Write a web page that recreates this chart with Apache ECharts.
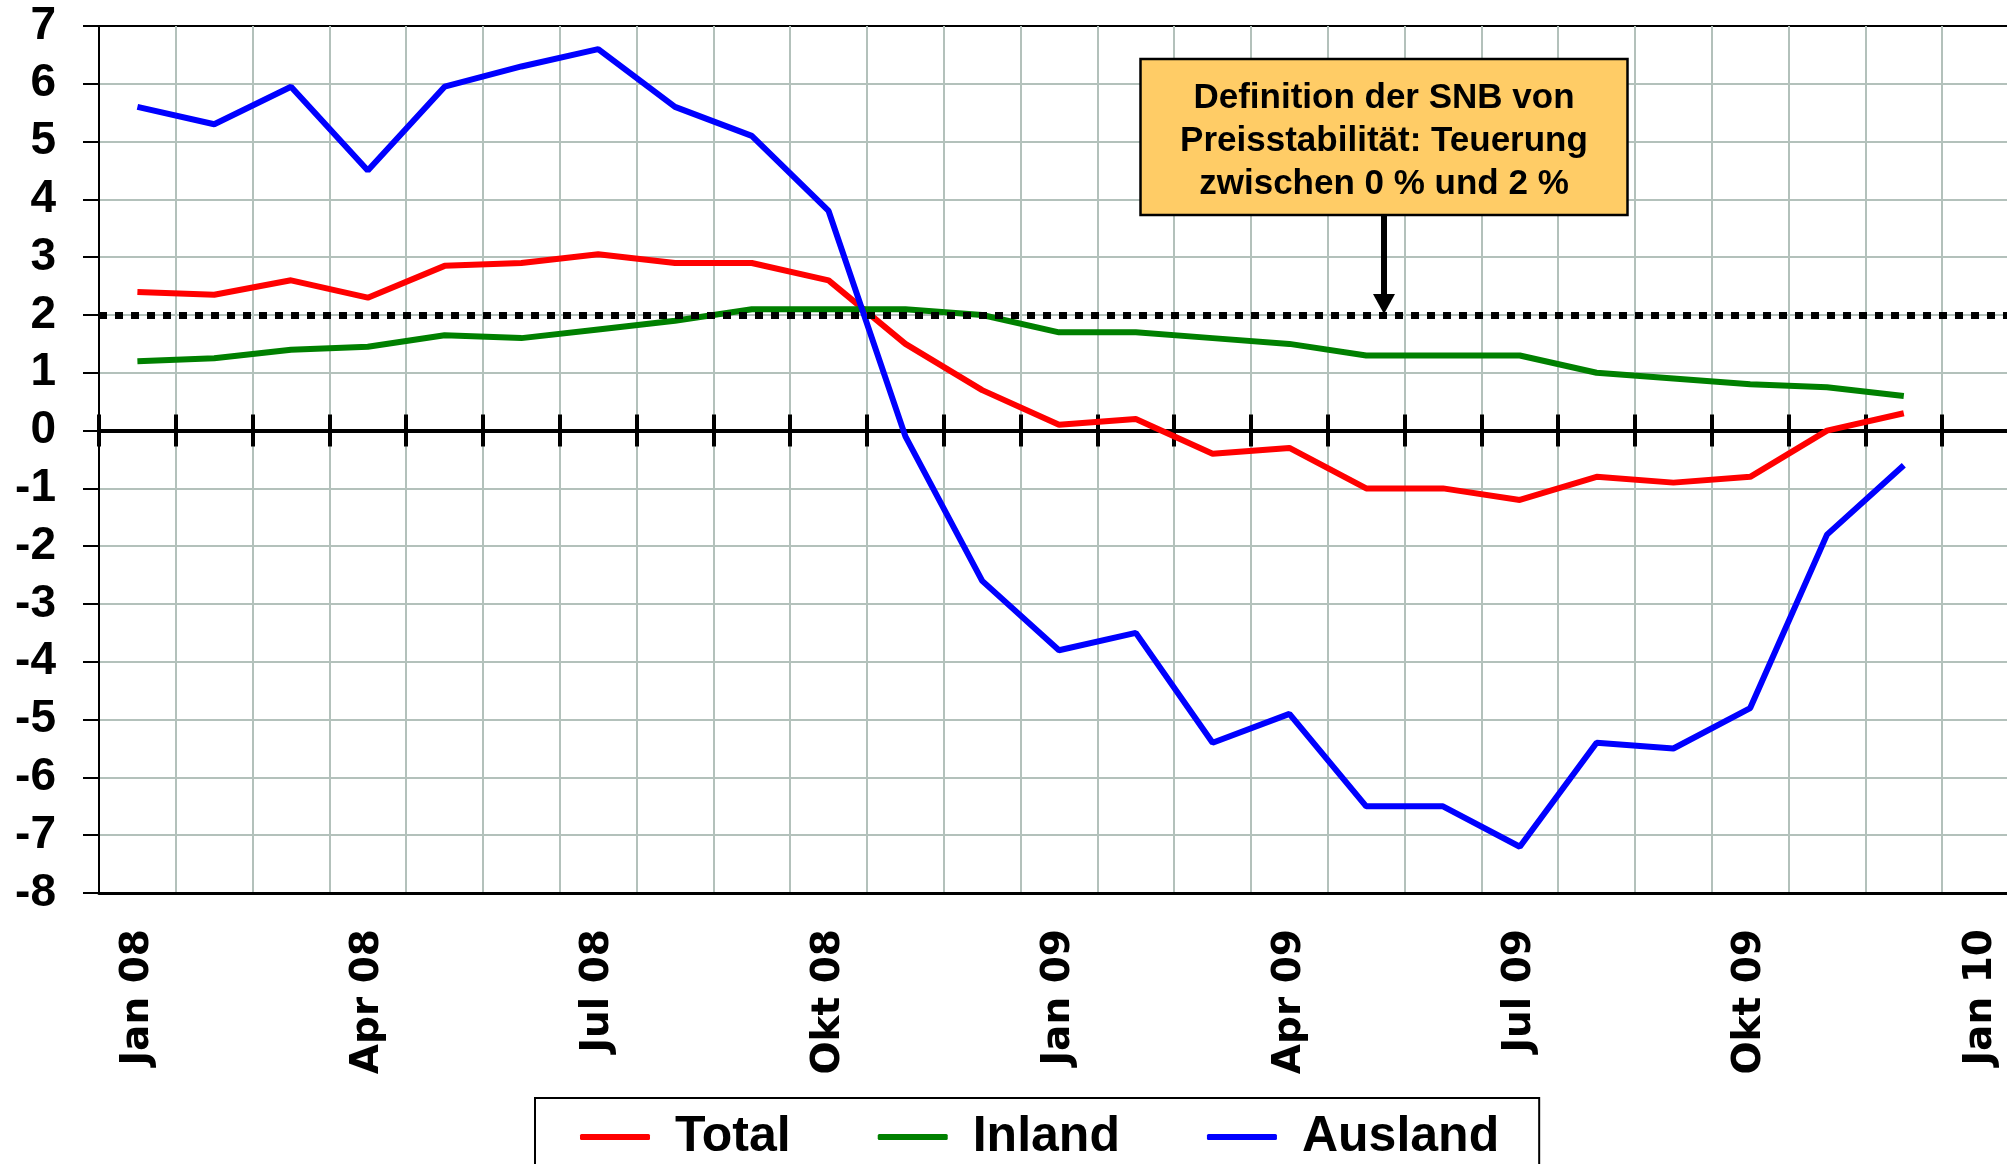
<!DOCTYPE html>
<html>
<head>
<meta charset="utf-8">
<script src="https://cdn.jsdelivr.net/npm/echarts@6/dist/echarts.min.js"></script>
<style>
  html, body { margin: 0; padding: 0; background: #fff; }
  #chart { width: 2007px; height: 1164px; }
</style>
</head>
<body>
<div id="chart"></div>
<script>
// Monate (Kategorien), Jan 08 bis Jan 10
var months = ['Jan 08', 'Feb 08', 'Mär 08', 'Apr 08', 'Mai 08', 'Jun 08', 'Jul 08', 'Aug 08', 'Sep 08', 'Okt 08', 'Nov 08', 'Dez 08',
  'Jan 09', 'Feb 09', 'Mär 09', 'Apr 09', 'Mai 09', 'Jun 09', 'Jul 09', 'Aug 09', 'Sep 09', 'Okt 09', 'Nov 09', 'Dez 09', 'Jan 10'];
// Teuerung in %
var total = [2.4, 2.35, 2.6, 2.3, 2.85, 2.9, 3.05, 2.9, 2.9, 2.6, 1.5, 0.7, 0.1, 0.2, -0.4, -0.3, -1.0, -1.0, -1.2, -0.8, -0.9, -0.8, 0.0, 0.3];
var inland = [1.2, 1.25, 1.4, 1.45, 1.65, 1.6, 1.75, 1.9, 2.1, 2.1, 2.1, 2.0, 1.7, 1.7, 1.6, 1.5, 1.3, 1.3, 1.3, 1.0, 0.9, 0.8, 0.75, 0.6];
var ausland = [5.6, 5.3, 5.95, 4.5, 5.95, 6.3, 6.6, 5.6, 5.1, 3.8, -0.1, -2.6, -3.8, -3.5, -5.4, -4.9, -6.5, -6.5, -7.2, -5.4, -5.5, -4.8, -1.8, -0.6];
var yMin = -8, yMax = 7, yStep = 1;
var stabilityLimit = 2;
var noteLines = ['Definition der SNB von', 'Preisstabilität: Teuerung', 'zwischen 0 % und 2 %'];

var sans = 'Liberation Sans, Arial, sans-serif';
var gridCol = '#b3c1bb';
// Plotfläche geht rechts etwas über den Bildrand hinaus
var gridPos = { left: 99, top: 26, width: 1920, bottom: 271, outerBoundsMode: 'none' };

var chart = echarts.init(document.getElementById('chart'));

var option = {
  animation: false,
  backgroundColor: '#fff',
  grid: [
    Object.assign({ show: true, borderColor: '#000', borderWidth: 2, backgroundColor: 'transparent' }, gridPos),
    Object.assign({ show: false }, gridPos)
  ],
  legend: {
    data: ['Total', 'Inland', 'Ausland'],
    left: 535, top: 1098,
    padding: [14, 40, 30, 45],
    borderColor: '#000', borderWidth: 2,
    itemWidth: 70, itemHeight: 6, itemGap: 87,
    icon: 'roundRect',
    textStyle: { fontFamily: sans, fontWeight: 'bold', fontSize: 50, color: '#000', padding: [0, 0, 0, 20] }
  },
  xAxis: [
    {
      // untere Achse mit Beschriftung
      type: 'category', gridIndex: 0, data: months, position: 'bottom',
      boundaryGap: true,
      axisLine: { onZero: false, lineStyle: { color: '#000', width: 3 } },
      axisTick: { show: false },
      axisLabel: {
        interval: 2, rotate: 90, margin: 36, color: '#000',
        fontFamily: 'DejaVu Sans, sans-serif', fontWeight: 'bold', fontSize: 39
      },
      splitLine: { show: true, interval: 0, showMinLine: false, lineStyle: { color: gridCol, width: 2 } }
    },
    {
      // Nulllinie, Striche nach oben
      type: 'category', gridIndex: 0, data: months, position: 'top',
      axisLine: { onZero: true, lineStyle: { color: '#000', width: 4 } },
      axisTick: { show: true, interval: 0, length: 16, lineStyle: { color: '#000', width: 4 } },
      axisLabel: { show: false },
      splitLine: { show: false }
    },
    {
      // Nulllinie, Striche nach unten
      type: 'category', gridIndex: 1, data: months, position: 'bottom',
      axisLine: { onZero: true, lineStyle: { color: '#000', width: 4 } },
      axisTick: { show: true, interval: 0, length: 16, lineStyle: { color: '#000', width: 4 } },
      axisLabel: { show: false },
      splitLine: { show: false }
    }
  ],
  yAxis: [
    {
      type: 'value', gridIndex: 0, min: yMin, max: yMax, interval: yStep,
      axisLine: { show: true, lineStyle: { color: '#000', width: 2 } },
      axisTick: { show: true, length: 16, lineStyle: { color: '#000', width: 2 } },
      axisLabel: { margin: 43, color: '#000', fontFamily: sans, fontWeight: 'bold', fontSize: 46 },
      splitLine: { show: true, showMinLine: false, showMaxLine: false, lineStyle: { color: gridCol, width: 2 } }
    },
    {
      type: 'value', gridIndex: 1, min: yMin, max: yMax, interval: yStep, show: false
    }
  ],
  series: [
    {
      name: 'Total', type: 'line', data: total, symbol: 'none',
      itemStyle: { color: '#ff0000' }, lineStyle: { color: '#ff0000', width: 6 },
      markLine: {
        silent: true, symbol: 'none', label: { show: false },
        lineStyle: { color: '#000', width: 7, type: [8, 8] },
        data: [{ yAxis: stabilityLimit }]
      }
    },
    {
      name: 'Inland', type: 'line', data: inland, symbol: 'none',
      itemStyle: { color: '#008000' }, lineStyle: { color: '#008000', width: 6 }
    },
    {
      name: 'Ausland', type: 'line', data: ausland, symbol: 'none',
      itemStyle: { color: '#0000ff' }, lineStyle: { color: '#0000ff', width: 6 }
    }
  ]
};
chart.setOption(option);

// Kasten mit Pfeil auf die 2%-Linie
var noteX = 1384, boxTop = 59, boxW = 487, boxH = 156;
var tipY = chart.convertToPixel({ yAxisIndex: 0 }, stabilityLimit);
chart.setOption({
  graphic: [
    {
      type: 'rect', z: 100,
      shape: { x: noteX - boxW / 2, y: boxTop, width: boxW, height: boxH },
      style: { fill: '#ffcc66', stroke: '#000', lineWidth: 2.5 }
    },
    {
      type: 'text', z: 101, x: noteX, y: boxTop + boxH / 2 + 4,
      style: {
        text: noteLines.join('\n'), fill: '#000',
        font: 'bold 35px ' + sans, lineHeight: 43,
        align: 'center', verticalAlign: 'middle'
      }
    },
    {
      type: 'line', z: 100,
      shape: { x1: noteX, y1: boxTop + boxH, x2: noteX, y2: tipY - 18 },
      style: { stroke: '#000', lineWidth: 6 }
    },
    {
      type: 'polygon', z: 100,
      shape: { points: [[noteX - 11, tipY - 21], [noteX + 11, tipY - 21], [noteX, tipY - 1]] },
      style: { fill: '#000' }
    }
  ]
});
</script>
</body>
</html>
